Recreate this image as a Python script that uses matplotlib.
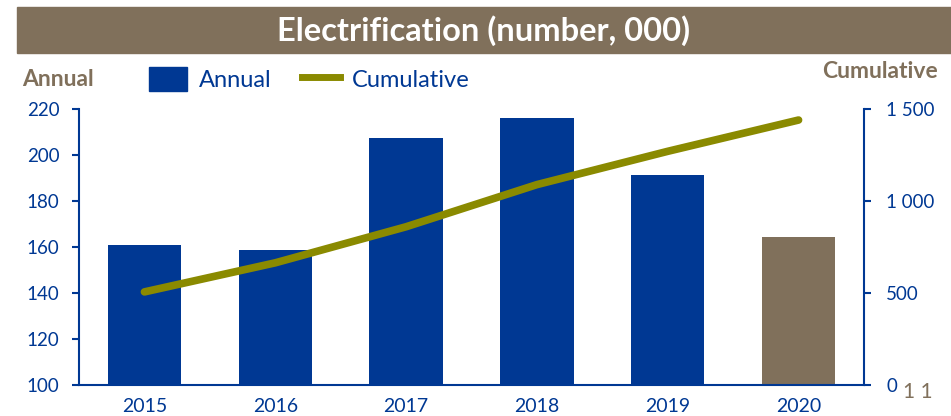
import matplotlib.pyplot as plt
from matplotlib.patches import Rectangle, Patch
from matplotlib.lines import Line2D

# dane
years = ['2015', '2016', '2017', '2018', '2019', '2020']
annual = [161, 158.5, 207.5, 216, 191.5, 164.5]
cumulative = [506, 664, 860, 1089, 1270, 1440]

left_ticks = [100, 120, 140, 160, 180, 200, 220]
right_ticks = [0, 500, 1000, 1500]
right_labels = ['0', '500', '1 000', '1 500']

blue = '#003893'
brown = '#80705b'
olive = '#8a8a00'

plt.rcParams['font.family'] = ['Lato', 'DejaVu Sans']

fig = plt.figure(figsize=(9.51, 4.16), dpi=100)
ax = fig.add_axes([0.0831, 0.0745, 0.8254, 0.6635])

# baner z tytulem
fig.patches.append(Rectangle((17 / 951, 1 - 53 / 416), 1 - 17 / 951, 46 / 416,
                             transform=fig.transFigure, color=brown, zorder=0))
fig.text(0.508, 1 - 31 / 416, 'Electrification (number, 000)', color='white',
         fontsize=23.5, fontweight='bold', ha='center', va='center')

bar_colors = [blue] * (len(years) - 1) + [brown]
x = range(len(years))
ax.bar(x, [a - 100 for a in annual], bottom=100, width=0.56, color=bar_colors, zorder=2)
ax.set_xlim(-0.5, len(years) - 0.5)
ax.set_ylim(100, 220)
ax.set_yticks(left_ticks)
ax.set_xticks(list(x))
ax.set_xticklabels(years)

ax2 = ax.twinx()
ax2.plot(x, cumulative, color=olive, linewidth=5.5, solid_capstyle='round', zorder=3)
ax2.set_ylim(0, 1500)
ax2.set_yticks(right_ticks)
ax2.set_yticklabels(right_labels)

for a in (ax, ax2):
    a.spines['top'].set_visible(False)
    for s in a.spines.values():
        s.set_color(blue)
        s.set_linewidth(1.5)
ax2.spines['left'].set_visible(False)
ax2.spines['bottom'].set_visible(False)
ax.spines['right'].set_visible(False)

ax.tick_params(axis='y', colors=blue, labelsize=13.5, length=5, width=1.5, pad=9)
ax.tick_params(axis='x', colors=blue, labelsize=14, length=0, pad=9)
ax2.tick_params(axis='y', colors=blue, labelsize=13.5, length=5, width=1.5, pad=11)
for lab in ax2.get_yticklabels():
    lab.set_horizontalalignment('left')

# etykiety osi
fig.text(22 / 951, 1 - 79 / 416, 'Annual', color=brown, fontsize=16.5,
         fontweight='bold', ha='left', va='center')
fig.text(938 / 951, 1 - 72 / 416, 'Cumulative', color=brown, fontsize=16.5,
         fontweight='bold', ha='right', va='center')
fig.text(918 / 951, 1 - 392 / 416, '1 1', color=brown, fontsize=15,
         ha='center', va='center')

handles = [Patch(color=blue), Line2D([0], [0], color=olive, linewidth=5)]
leg = fig.legend(handles, ['Annual', 'Cumulative'], loc='center left',
                 bbox_to_anchor=(149 / 951, 1 - 79 / 416), ncol=2, frameon=False,
                 fontsize=17, handlelength=1.6, handleheight=1.15,
                 handletextpad=0.5, columnspacing=1.3, borderpad=0,
                 borderaxespad=0)
for t in leg.get_texts():
    t.set_color(blue)

fig.savefig('out.png', dpi=100)
